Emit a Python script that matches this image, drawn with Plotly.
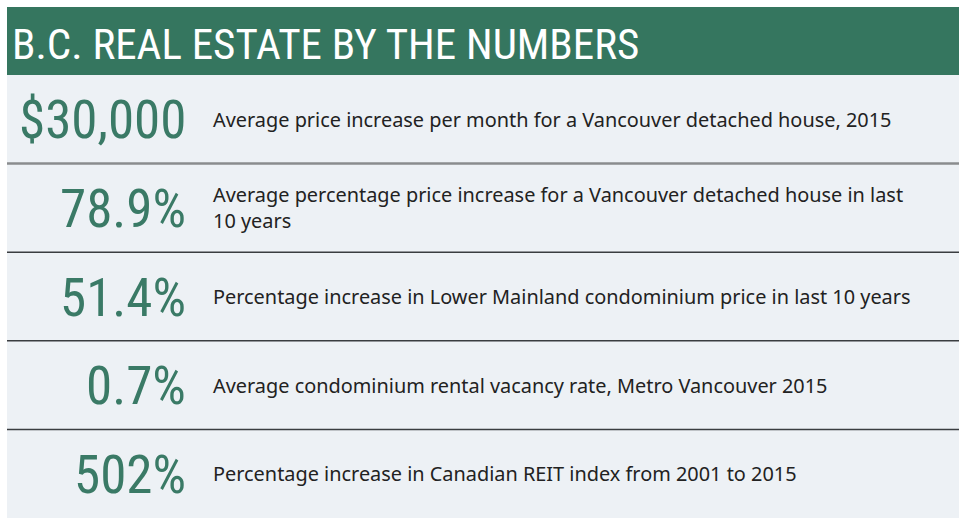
import plotly.graph_objects as go

title = "B.C. REAL ESTATE BY THE NUMBERS"
figures = ["$30,000", "78.9%", "51.4%", "0.7%", "502%"]
descriptions = [
    "Average price increase per month for a Vancouver detached house, 2015",
    "Average percentage price increase for a Vancouver detached house in last<br>10 years",
    "Percentage increase in Lower Mainland condominium price in last 10 years",
    "Average condominium rental vacancy rate, Metro Vancouver 2015",
    "Percentage increase in Canadian REIT index from 2001 to 2015",
]

W, H = 968, 526
GREEN = "#35765f"
PANEL = "#edf1f5"
COND = "Noto Sans ExtraCondensed, Noto Sans Condensed, Roboto Condensed, Liberation Sans Narrow, Roboto, sans-serif"
left, right = 7, 959
head_top, head_bot = 7, 75
panel_bot = 518
n = len(figures)
row_h = (panel_bot - head_bot) / n

fig = go.Figure()
fig.add_trace(go.Scatter(x=[0, W], y=[0, H], mode="markers",
                         marker=dict(opacity=0), hoverinfo="skip", showlegend=False))

shapes = [
    dict(type="rect", xref="x", yref="y", x0=left, x1=right, y0=head_top, y1=head_bot,
         fillcolor=GREEN, line=dict(width=0), layer="below"),
    dict(type="rect", xref="x", yref="y", x0=left, x1=right, y0=head_bot, y1=panel_bot,
         fillcolor=PANEL, line=dict(width=0), layer="below"),
]
annotations = [
    dict(x=10, y=(head_top + head_bot) / 2 + 3, xref="x", yref="y", text=title,
         showarrow=False, xanchor="left", yanchor="middle",
         font=dict(family=COND, size=43, color="white")),
]
for i, (f, d) in enumerate(zip(figures, descriptions)):
    top = head_bot + i * row_h
    cy = top + row_h / 2
    if i > 0:
        shapes.append(dict(type="line", xref="x", yref="y", x0=left, x1=right, y0=top, y1=top,
                           line=dict(color="#8a8c8e" if i == 1 else "#3a3d40",
                                     width=2.5 if i == 1 else 1.5)))
    annotations.append(dict(x=188, y=cy + 1, xref="x", yref="y", text=f, showarrow=False,
                            xanchor="right", yanchor="middle",
                            font=dict(family=COND, size=53, color="#3a7a66")))
    annotations.append(dict(x=211, y=cy, xref="x", yref="y", text=d, showarrow=False,
                            xanchor="left", yanchor="middle", align="left",
                            font=dict(family="Noto Sans, Open Sans, sans-serif",
                                      size=19.9, color="#222222")))

fig.update_layout(
    width=W, height=H, margin=dict(l=0, r=0, t=0, b=0),
    paper_bgcolor="white", plot_bgcolor="white",
    xaxis=dict(range=[0, W], visible=False, fixedrange=True),
    yaxis=dict(range=[H, 0], visible=False, fixedrange=True),
    shapes=shapes, annotations=annotations, showlegend=False,
)
fig.write_html("out.html", config={"displayModeBar": False},
               post_script="document.body.style.margin='0';")
